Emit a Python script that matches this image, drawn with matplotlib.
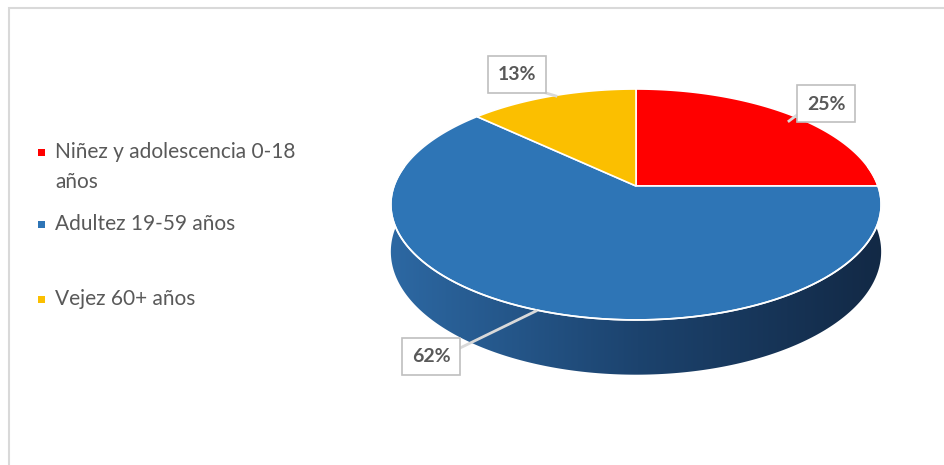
import numpy as np
import matplotlib.pyplot as plt
from matplotlib.patches import Polygon, Rectangle
from matplotlib.colors import LinearSegmentedColormap

plt.rcParams['font.family'] = ['Lato', 'DejaVu Sans']

labels = ['Niñez y adolescencia 0-18\naños', 'Adultez 19-59 años', 'Vejez 60+ años']
values = [25, 62, 13]
colors = ['#ff0000', '#2e75b6', '#fbbf00']

# pie geometry in pixel space (y grows downwards)
cx, cy = 636, 186
A, B = 242, 112.5
k = 0.16          # perspective strength
depth = 46

def rim(theta):
    # theta measured clockwise from 12 o'clock
    u = np.sin(theta)
    w = -np.cos(theta)
    s = 1.0 / (1.0 - k * w)
    return cx + A * u * s, cy + B * w * s, s

fig = plt.figure(figsize=(9.44, 4.65), dpi=100)
ax = fig.add_axes([0, 0, 1, 1])
ax.set_xlim(0, 944)
ax.set_ylim(465, 0)
ax.axis('off')

# chart border (top and left edges visible)
ax.plot([9, 9, 944], [465, 8, 8], color='#d9d9d9', lw=1.5, solid_joinstyle='miter')

# side wall with horizontal shading
th = np.radians(np.linspace(60, 300, 300))
tx, ty, ts = rim(th)
bx, by = tx, ty + depth * ts
side = Polygon(np.column_stack([np.r_[tx, bx[::-1]], np.r_[ty, by[::-1]]]),
               closed=True, facecolor='none', edgecolor='none')
ax.add_patch(side)
cmap = LinearSegmentedColormap.from_list('side', ['#2d69a4', '#1c436e', '#122844'])
grad = np.linspace(0, 1, 256).reshape(1, -1)
img = ax.imshow(grad, cmap=cmap, aspect='auto', extent=[385, 890, 400, 90], zorder=1)
img.set_clip_path(side)

# top face slices
start = 0.0
total = sum(values)
for val, col in zip(values, colors):
    span = val / total * 2 * np.pi
    t = np.linspace(start, start + span, 200)
    x, y, _ = rim(t)
    poly = Polygon(np.column_stack([np.r_[cx, x], np.r_[cy, y]]), closed=True,
                   facecolor=col, edgecolor='white', lw=1.2, zorder=2)
    ax.add_patch(poly)
    start += span

# white rim along the front edge
t = np.radians(np.linspace(80, 280, 200))
x, y, _ = rim(t)
ax.plot(x, y, color='white', lw=1.2, zorder=3)

# data labels with leader lines
label_pos = [(826, 104), (431, 356), (517, 75)]
leaders = [((797, 115), (789, 121)), ((460, 348), (536, 311)), ((546, 93), (556, 96))]
for val, (lx, ly), (p0, p1) in zip(values, label_pos, leaders):
    ax.plot([p0[0], p1[0]], [p0[1], p1[1]], color='#d9d9d9', lw=2, zorder=4)
    ax.add_patch(Rectangle((lx - 29, ly - 18.5), 58, 37, facecolor='white',
                           edgecolor='#bfbfbf', lw=1.2, zorder=5))
    ax.text(lx, ly, f'{val}%', ha='center', va='center', fontsize=14,
            color='#595959', fontweight='bold', zorder=6)

# legend
legend_y = [152, 224, 299]
for lab, col, ly in zip(labels, colors, legend_y):
    ax.add_patch(Rectangle((38, ly - 3.5), 7, 7, facecolor=col, edgecolor='none'))
    for i, line in enumerate(lab.split('\n')):
        ax.text(55, ly + 30 * i, line, ha='left', va='center', fontsize=15,
                color='#595959')

fig.savefig('out.png', dpi=100)
